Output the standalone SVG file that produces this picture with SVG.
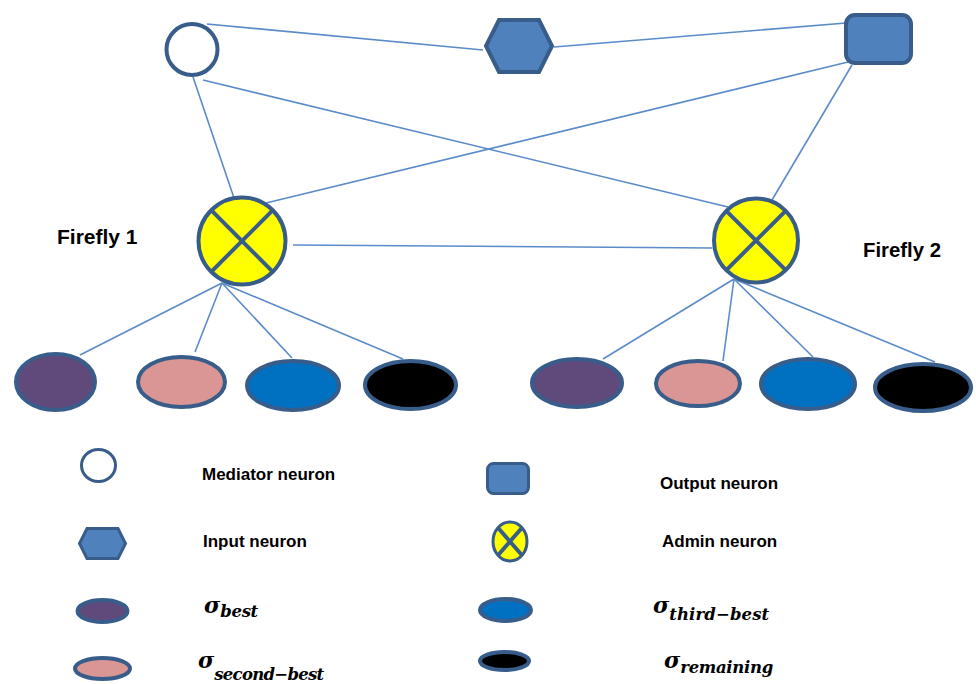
<svg xmlns="http://www.w3.org/2000/svg" width="976" height="684" viewBox="0 0 976 684">
  <style>
    .edge { stroke: #5b8bc9; stroke-width: 1.6; fill: none; }
    .node { stroke: #385d8a; stroke-width: 4; }
    .thin { stroke-width: 3; }
    .blue { fill: #4f81bd; }
    .white { fill: #ffffff; }
    .admin { fill: #ffff00; }
    .cross { stroke: #385d8a; stroke-width: 4; fill: none; }
    .purple { fill: #604a7b; }
    .pink { fill: #d99694; }
    .mid { fill: #0070c0; }
    .black { fill: #000000; }
    .label { font-family: "Liberation Sans", Arial, sans-serif; font-weight: bold; fill: #000; }
    .sym { font-family: "DejaVu Serif", "Liberation Serif", serif; font-weight: bold; font-style: italic; fill: #000; }
  </style>

  <rect width="976" height="684" fill="#ffffff"/>

  <!-- connectors -->
  <g id="connectors">
    <line class="edge" x1="207" y1="24" x2="483" y2="50"/>
    <line class="edge" x1="554" y1="47" x2="846" y2="23"/>
    <line class="edge" x1="193" y1="77" x2="234" y2="198"/>
    <line class="edge" x1="203" y1="80" x2="728" y2="207"/>
    <line class="edge" x1="848" y1="62" x2="266" y2="203"/>
    <line class="edge" x1="852" y1="65" x2="772" y2="200"/>
    <line class="edge" x1="293" y1="245" x2="712" y2="248"/>
    <line class="edge" x1="222" y1="283" x2="80" y2="355"/>
    <line class="edge" x1="222" y1="283" x2="195" y2="352"/>
    <line class="edge" x1="222" y1="283" x2="292" y2="358"/>
    <line class="edge" x1="222" y1="283" x2="403" y2="359"/>
    <line class="edge" x1="734" y1="279" x2="603" y2="359"/>
    <line class="edge" x1="734" y1="279" x2="723" y2="361"/>
    <line class="edge" x1="734" y1="279" x2="813" y2="357"/>
    <line class="edge" x1="734" y1="279" x2="935" y2="362"/>
  </g>

  <!-- top layer -->
  <g id="mediator">
    <circle class="node white" cx="192" cy="49.5" r="25.5"/>
  </g>
  <g id="input">
    <polygon class="node blue" points="486,46 499,20 539,20 552,46 539,72 499,72"/>
  </g>
  <g id="output">
    <rect class="node blue" x="846" y="15" width="65" height="48" rx="9"/>
  </g>

  <!-- admin neurons -->
  <g id="firefly1">
    <circle class="node admin" cx="242" cy="241" r="43.5"/>
    <line class="cross" x1="211.2" y1="210.2" x2="272.8" y2="271.8"/>
    <line class="cross" x1="272.8" y1="210.2" x2="211.2" y2="271.8"/>
    <text class="label" x="57" y="244" font-size="21">Firefly 1</text>
  </g>
  <g id="firefly2">
    <circle class="node admin" cx="756" cy="240.5" r="42"/>
    <line class="cross" x1="726.3" y1="210.8" x2="785.7" y2="270.2"/>
    <line class="cross" x1="785.7" y1="210.8" x2="726.3" y2="270.2"/>
    <text class="label" x="863" y="257" font-size="21" textLength="78" lengthAdjust="spacingAndGlyphs">Firefly 2</text>
  </g>

  <!-- firefly 1 members -->
  <g id="f1-best"><ellipse class="node purple" cx="55.5" cy="382" rx="39.5" ry="28"/></g>
  <g id="f1-second"><ellipse class="node pink" cx="181.5" cy="382" rx="43.5" ry="25"/></g>
  <g id="f1-third"><ellipse class="node mid" cx="293" cy="385.5" rx="46" ry="24.5"/></g>
  <g id="f1-rest"><ellipse class="node black" cx="410.5" cy="385" rx="45.5" ry="24"/></g>

  <!-- firefly 2 members -->
  <g id="f2-best"><ellipse class="node purple" cx="577" cy="383" rx="45" ry="24"/></g>
  <g id="f2-second"><ellipse class="node pink" cx="698" cy="383.5" rx="42" ry="22.5"/></g>
  <g id="f2-third"><ellipse class="node mid" cx="808" cy="384" rx="47" ry="25"/></g>
  <g id="f2-rest"><ellipse class="node black" cx="923" cy="387.5" rx="48" ry="23.5"/></g>

  <!-- legend -->
  <g id="legend-mediator">
    <ellipse class="node thin white" cx="98.5" cy="465.5" rx="17" ry="16"/>
    <text class="label" x="202" y="480" font-size="17">Mediator neuron</text>
  </g>
  <g id="legend-input">
    <polygon class="node thin blue" points="79.5,543.5 87,528.5 118,528.5 125.5,543.5 118,558.5 87,558.5"/>
    <text class="label" x="203" y="547" font-size="17">Input neuron</text>
  </g>
  <g id="legend-best">
    <ellipse class="node purple" cx="102.5" cy="611" rx="25" ry="11"/>
    <text class="sym" x="204" y="613" font-size="22">σ<tspan font-size="16.5" dy="4" textLength="38">best</tspan></text>
  </g>
  <g id="legend-second">
    <ellipse class="node pink" cx="102.5" cy="668.5" rx="27.5" ry="10.5"/>
    <text class="sym" x="198" y="668" font-size="22">σ<tspan font-size="16.5" dy="12" textLength="110">second−best</tspan></text>
  </g>
  <g id="legend-output">
    <rect class="node thin blue" x="487.5" y="463.5" width="41" height="30" rx="6"/>
    <text class="label" x="660" y="489" font-size="17">Output neuron</text>
  </g>
  <g id="legend-admin">
    <ellipse class="node thin admin" cx="510" cy="541.5" rx="17" ry="19.5"/>
    <line class="cross" stroke-width="3" x1="498" y1="527.7" x2="522" y2="555.3"/>
    <line class="cross" stroke-width="3" x1="522" y1="527.7" x2="498" y2="555.3"/>
    <text class="label" x="662" y="547" font-size="17">Admin neuron</text>
  </g>
  <g id="legend-third">
    <ellipse class="node mid" cx="505.5" cy="610" rx="25.5" ry="11"/>
    <text class="sym" x="653" y="613" font-size="22">σ<tspan font-size="16.5" dy="7" textLength="100">third−best</tspan></text>
  </g>
  <g id="legend-rest">
    <ellipse class="node black" cx="504.5" cy="661" rx="24.5" ry="9"/>
    <text class="sym" x="664" y="668" font-size="22">σ<tspan font-size="16.5" dy="5" textLength="93">remaining</tspan></text>
  </g>
</svg>
